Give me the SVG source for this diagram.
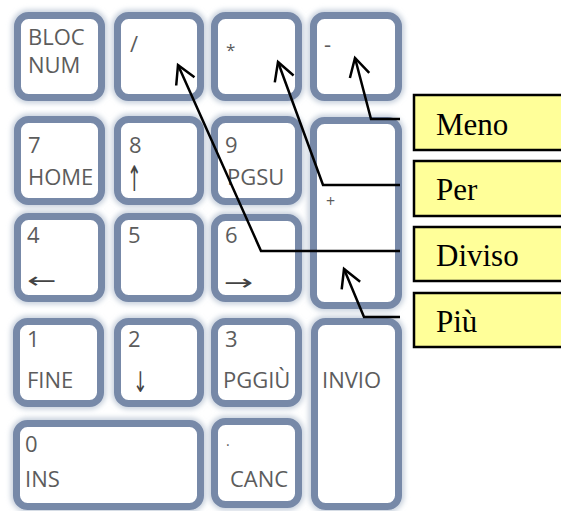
<svg xmlns="http://www.w3.org/2000/svg" width="561" height="511" viewBox="0 0 561 511">
<style>
.key rect.k{fill:#fff;stroke:#7789A8;stroke-width:7}
.key rect.g{fill:none;stroke:#c9d2de;stroke-width:12;filter:url(#blur)}
.kt{font-family:"Open Sans","Noto Sans",sans-serif;font-size:22px;fill:#5c5c5c}
.ar{font-family:"DejaVu Sans",sans-serif;font-size:22px;fill:#444}
.lbl rect{fill:#FFFF99;stroke:#000;stroke-width:2.5}
.lbl text{font-family:"Liberation Serif","Times New Roman",serif;font-size:31px;fill:#000}
.conn polyline{fill:none;stroke:#000;stroke-width:2.5;marker-end:url(#head)}
</style>
<defs>
<filter id="blur" x="-20%" y="-20%" width="140%" height="140%"><feGaussianBlur stdDeviation="2.5"/></filter>
<marker id="head" markerUnits="userSpaceOnUse" markerWidth="40" markerHeight="40" viewBox="-20 -20 40 40" refX="0" refY="0" orient="auto">
<path d="M-18,-10 L0,0 L-18,10" fill="none" stroke="#000" stroke-width="2.5"/>
</marker>
</defs>
<rect width="561" height="511" fill="#fff"/>
<g id="key-blocnum" class="key"><rect class="g" x="17.5" y="15.5" width="84" height="82" rx="11"/><rect class="k" x="17.5" y="15.5" width="84" height="82" rx="11"/><text class="kt" x="28" y="45">BLOC</text><text class="kt" x="28" y="73">NUM</text></g>
<g id="key-div" class="key"><rect class="g" x="117.5" y="15.5" width="83" height="82" rx="11"/><rect class="k" x="117.5" y="15.5" width="83" height="82" rx="11"/><text class="kt" x="130" y="52">/</text></g>
<g id="key-mul" class="key"><rect class="g" x="214.5" y="15.5" width="84" height="82" rx="11"/><rect class="k" x="214.5" y="15.5" width="84" height="82" rx="11"/><text class="kt" x="226" y="56" style="font-size:17px">*</text></g>
<g id="key-minus" class="key"><rect class="g" x="313.5" y="15.5" width="85" height="82" rx="11"/><rect class="k" x="313.5" y="15.5" width="85" height="82" rx="11"/><text class="kt" x="324" y="52">-</text></g>
<g id="key-7" class="key"><rect class="g" x="17.5" y="119.5" width="84" height="82" rx="11"/><rect class="k" x="17.5" y="119.5" width="84" height="82" rx="11"/><text class="kt" x="28" y="153">7</text><text class="kt" x="28" y="185">HOME</text></g>
<g id="key-8" class="key"><rect class="g" x="117.5" y="119.5" width="83" height="82" rx="11"/><rect class="k" x="117.5" y="119.5" width="83" height="82" rx="11"/><text class="kt" x="129" y="153">8</text><text class="ar" transform="translate(127,191) scale(0.8,1.6)">↑</text></g>
<g id="key-9" class="key"><rect class="g" x="214.5" y="119.5" width="84" height="82" rx="11"/><rect class="k" x="214.5" y="119.5" width="84" height="82" rx="11"/><text class="kt" x="225" y="153">9</text><text class="kt" x="227" y="185">PGSU</text></g>
<g id="key-plus" class="key"><rect class="g" x="313.5" y="120.5" width="85" height="185" rx="11"/><rect class="k" x="313.5" y="120.5" width="85" height="185" rx="11"/><text class="kt" x="326" y="207" style="font-size:16px">+</text></g>
<g id="key-4" class="key"><rect class="g" x="17.5" y="216.5" width="84" height="82" rx="11"/><rect class="k" x="17.5" y="216.5" width="84" height="82" rx="11"/><text class="kt" x="27" y="243">4</text><text class="ar" transform="translate(27,288) scale(1.6,1)">←</text></g>
<g id="key-5" class="key"><rect class="g" x="117.5" y="216.5" width="83" height="82" rx="11"/><rect class="k" x="117.5" y="216.5" width="83" height="82" rx="11"/><text class="kt" x="128" y="243">5</text></g>
<g id="key-6" class="key"><rect class="g" x="214.5" y="217.5" width="84" height="81" rx="11"/><rect class="k" x="214.5" y="217.5" width="84" height="81" rx="11"/><text class="kt" x="225" y="243">6</text><text class="ar" transform="translate(224,290) scale(1.6,1)">→</text></g>
<g id="key-1" class="key"><rect class="g" x="16.5" y="321.5" width="84" height="82" rx="11"/><rect class="k" x="16.5" y="321.5" width="84" height="82" rx="11"/><text class="kt" x="27" y="347">1</text><text class="kt" x="27" y="388">FINE</text></g>
<g id="key-2" class="key"><rect class="g" x="117.5" y="321.5" width="83" height="82" rx="11"/><rect class="k" x="117.5" y="321.5" width="83" height="82" rx="11"/><text class="kt" x="128" y="347">2</text><text class="ar" transform="translate(133,392) scale(0.8,1.3)">↓</text></g>
<g id="key-3" class="key"><rect class="g" x="214.5" y="321.5" width="84" height="82" rx="11"/><rect class="k" x="214.5" y="321.5" width="84" height="82" rx="11"/><text class="kt" x="225" y="347">3</text><text class="kt" x="223" y="388">PGGIÙ</text></g>
<g id="key-invio" class="key"><rect class="g" x="314.5" y="321.5" width="84" height="185" rx="11"/><rect class="k" x="314.5" y="321.5" width="84" height="185" rx="11"/><text class="kt" x="322" y="388">INVIO</text></g>
<g id="key-0" class="key"><rect class="g" x="16.5" y="423.5" width="184" height="83" rx="11"/><rect class="k" x="16.5" y="423.5" width="184" height="83" rx="11"/><text class="kt" x="25" y="452">0</text><text class="kt" x="25" y="487">INS</text></g>
<g id="key-canc" class="key"><rect class="g" x="214.5" y="421.5" width="84" height="83" rx="11"/><rect class="k" x="214.5" y="421.5" width="84" height="83" rx="11"/><text class="kt" x="226" y="446" style="font-size:14px">.</text><text class="kt" x="230" y="487">CANC</text></g>
<g id="connectors" class="conn">
<polyline points="400,119 371,119 355,58"/>
<polyline points="400,185 323,185 278,62"/>
<polyline points="400,251 261,251 178,65"/>
<polyline points="400,317 364,317 344,269"/>
</g>
<g id="label-meno" class="lbl"><rect x="414" y="95" width="160" height="55"/><text x="436" y="135">Meno</text></g>
<g id="label-per" class="lbl"><rect x="414" y="161" width="160" height="55"/><text x="436" y="200">Per</text></g>
<g id="label-diviso" class="lbl"><rect x="414" y="227" width="160" height="54"/><text x="436" y="266">Diviso</text></g>
<g id="label-piu" class="lbl"><rect x="414" y="293" width="160" height="54"/><text x="436" y="332">Più</text></g>
</svg>
